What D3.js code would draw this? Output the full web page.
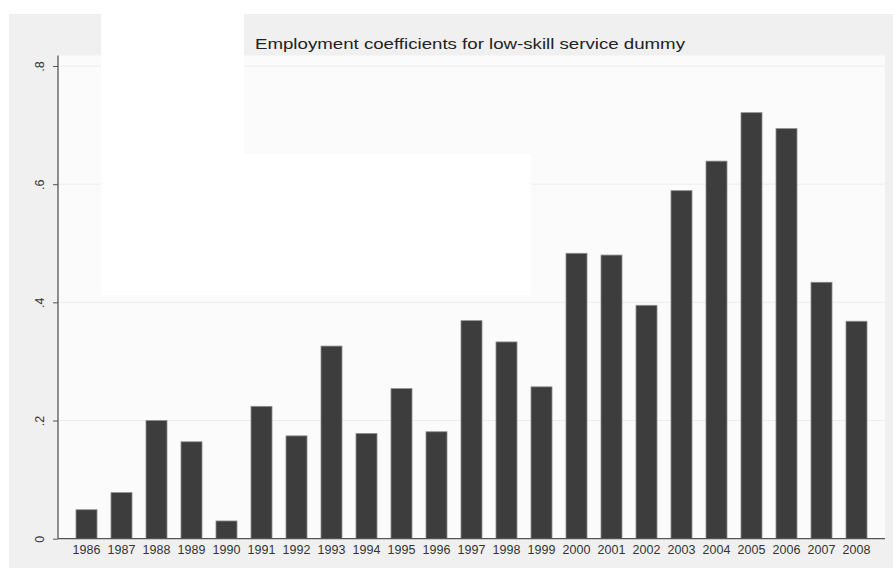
<!DOCTYPE html>
<html>
<head>
<meta charset="utf-8">
<script src="https://cdn.jsdelivr.net/npm/d3@7/dist/d3.min.js"></script>
<style>
  html, body { margin: 0; padding: 0; background: #ffffff; }
  svg { display: block; }
  text { font-family: "Liberation Sans", Arial, sans-serif; }
</style>
</head>
<body>
<svg id="chart" width="893" height="570"></svg>
<script>
// Survey years on the category axis
const years = ["1986","1987","1988","1989","1990","1991","1992","1993","1994","1995","1996","1997",
               "1998","1999","2000","2001","2002","2003","2004","2005","2006","2007","2008"];
// Employment coefficient for the low-skill service dummy, one per year
const coefficients = [0.049, 0.078, 0.200, 0.164, 0.030, 0.224, 0.174, 0.326, 0.178, 0.254, 0.181, 0.369,
                      0.333, 0.257, 0.483, 0.480, 0.395, 0.589, 0.639, 0.721, 0.694, 0.434, 0.368];
// Value-axis ticks and their labels
const yTicks = [0, 0.2, 0.4, 0.6, 0.8];
const yTickLabels = ["0", ".2", ".4", ".6", ".8"];
const title = "Employment coefficients for low-skill service dummy";

const svg = d3.select("#chart");

// Outer graph region and inner plot region
const outer = { x0: 9, y0: 14, x1: 893, y1: 568 };
const plot = { x0: 58, y0: 55.5, x1: 885, y1: 538.7 };

svg.append("rect")
  .attr("x", outer.x0).attr("y", outer.y0)
  .attr("width", outer.x1 - outer.x0).attr("height", outer.y1 - outer.y0)
  .attr("fill", "#f0f0f0");

svg.append("rect")
  .attr("x", plot.x0).attr("y", plot.y0)
  .attr("width", plot.x1 - plot.x0).attr("height", plot.y1 - plot.y0)
  .attr("fill", "#fbfbfb");

const x = d3.scaleBand()
  .domain(years)
  .range([69, 874])
  .paddingInner(0.4)
  .paddingOuter(0.2);

const y = d3.scaleLinear()
  .domain([0, 0.8])
  .range([plot.y1, 66]);

// Horizontal grid lines
svg.append("g")
  .selectAll("line")
  .data(yTicks.filter(d => d > 0))
  .join("line")
  .attr("x1", plot.x0).attr("x2", plot.x1)
  .attr("y1", d => y(d)).attr("y2", d => y(d))
  .attr("stroke", "#ececec")
  .attr("stroke-width", 1);

// Bars
svg.append("g")
  .selectAll("rect")
  .data(years.map((yr, i) => ({ yr, v: coefficients[i] })))
  .join("rect")
  .attr("x", d => x(d.yr))
  .attr("y", d => y(d.v))
  .attr("width", x.bandwidth())
  .attr("height", d => y(0) - y(d.v))
  .attr("fill", "#3d3d3d")
  .attr("stroke", "#8c8c8c")
  .attr("stroke-width", 0.8);

// Blank white panels laid over the upper-left of the graph
svg.append("rect")
  .attr("x", 101).attr("y", 14).attr("width", 143).attr("height", 141)
  .attr("fill", "#ffffff");
svg.append("rect")
  .attr("x", 101).attr("y", 154).attr("width", 430).attr("height", 141)
  .attr("fill", "#ffffff");

// Value axis (left)
const yAxis = d3.axisLeft(y)
  .tickValues(yTicks)
  .tickSize(5)
  .tickPadding(0)
  .tickFormat((d, i) => yTickLabels[i]);

const gy = svg.append("g")
  .attr("transform", `translate(${plot.x0},0)`)
  .call(yAxis);
gy.select(".domain")
  .attr("d", `M0,${plot.y1}V${plot.y0}`)
  .attr("stroke", "#555555")
  .attr("stroke-width", 1.3);
gy.selectAll(".tick line").attr("stroke", "#555555");
gy.selectAll(".tick text")
  .attr("x", 0).attr("y", 0).attr("dy", null)
  .attr("transform", "translate(-14,0) rotate(-90)")
  .attr("text-anchor", "middle")
  .attr("fill", "#333333")
  .style("font-size", "12.5px");

// Category axis (bottom)
const xAxis = d3.axisBottom(x).tickSize(0).tickPadding(0);
const gx = svg.append("g")
  .attr("transform", `translate(0,${plot.y1})`)
  .call(xAxis);
gx.select(".domain")
  .attr("d", `M${plot.x0},0H${plot.x1}`)
  .attr("stroke", "#555555")
  .attr("stroke-width", 1.3);
gx.selectAll(".tick text")
  .attr("y", 15.5).attr("dy", null)
  .attr("fill", "#333333")
  .style("font-size", "12.5px");

// Title, stretched to the wide face used in the graph header
svg.append("text")
  .attr("x", 470).attr("y", 49)
  .attr("text-anchor", "middle")
  .attr("fill", "#222222")
  .attr("textLength", 430)
  .attr("lengthAdjust", "spacingAndGlyphs")
  .style("font-size", "15.5px")
  .text(title);
</script>
</body>
</html>
